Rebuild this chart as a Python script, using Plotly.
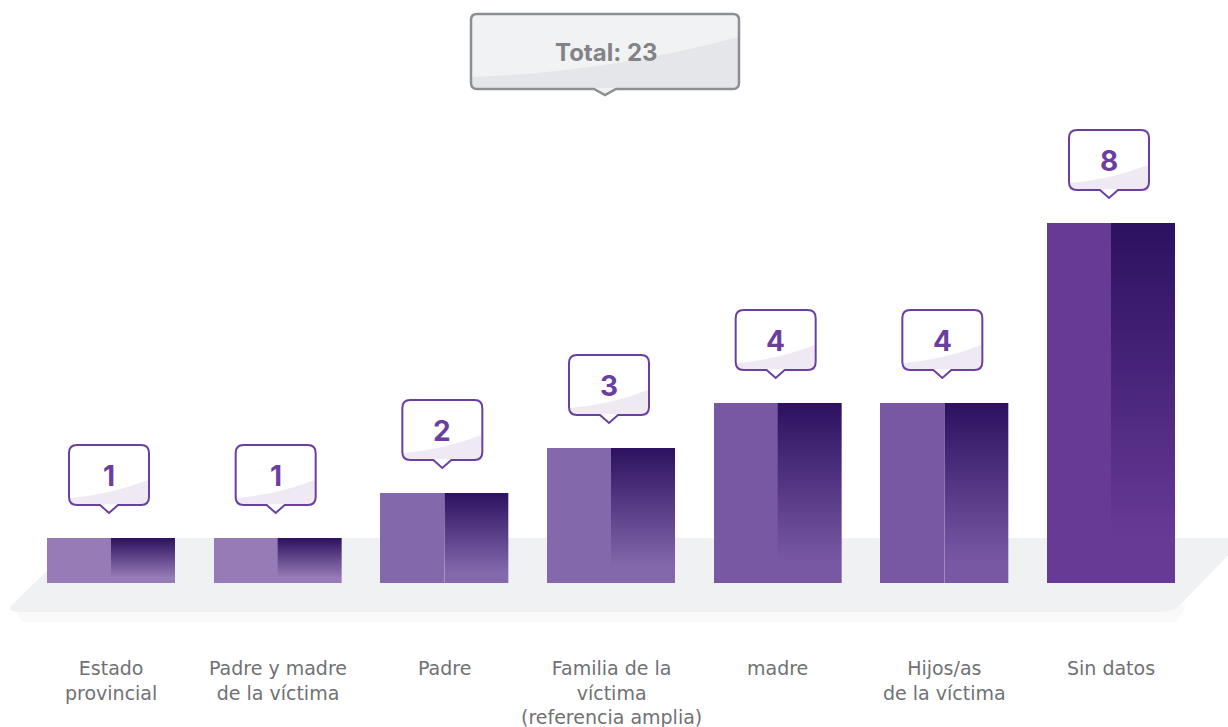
import plotly.graph_objects as go

# ---------------- data ----------------
categories = ["Estado<br>provincial", "Padre y madre<br>de la víctima", "Padre",
              "Familia de la<br>víctima<br>(referencia amplia)", "madre",
              "Hijos/as<br>de la víctima", "Sin datos"]
values = [1, 1, 2, 3, 4, 4, 8]
total_label = "Total: 23"

# ---------------- styles ----------------
light_colors = ["#967bb6", "#967bb6", "#8468ac", "#8468ac", "#7858a3", "#7858a3", "#673a96"]
dark_top = "#2c1160"
purple = "#6b3fa0"
W, H = 1228, 727
HALF = 0.384  # half bar width in x units

idx = list(range(len(values)))

fig = go.Figure()

# left (solid) halves of bars
fig.add_trace(go.Bar(
    x=[i - HALF / 2 for i in idx], y=values, width=HALF,
    marker=dict(color=light_colors, line=dict(width=0)),
    hoverinfo="skip", showlegend=False))

# right (gradient) halves of bars
for i, v, c in zip(idx, values, light_colors):
    fig.add_trace(go.Scatter(
        x=[i, i + HALF, i + HALF, i, i], y=[0, 0, v, v, 0],
        mode="lines", fill="toself", line=dict(width=0, color=c),
        fillgradient=dict(type="vertical", colorscale=[[0, c], [0.12, c], [1, dark_top]]),
        hoverinfo="skip", showlegend=False))


def pp(x, y):
    return f"{x / W:.5f},{1 - y / H:.5f}"


shapes = []
# floor platform (decoration)
shapes.append(dict(type="path", xref="paper", yref="paper", layer="below",
                   path=f"M {pp(14, 606)} L {pp(1186, 606)} L {pp(1176, 622)} L {pp(22, 622)} Z",
                   fillcolor="#f9f9fa", line=dict(width=0)))
shapes.append(dict(type="path", xref="paper", yref="paper", layer="below",
                   path=(f"M {pp(80, 538)} L {pp(1245, 538)} L {pp(1180, 605)} "
                         f"Q {pp(1173, 612)} {pp(1160, 612)} L {pp(20, 612)} "
                         f"Q {pp(6, 612)} {pp(12, 605)} Z"),
                   fillcolor="#f0f1f3", line=dict(width=0)))

# total box
tb = (f"M {pp(477, 14)} L {pp(733, 14)} Q {pp(739, 14)} {pp(739, 20)} L {pp(739, 83)} "
      f"Q {pp(739, 89)} {pp(733, 89)} L {pp(616, 89)} L {pp(605, 95)} L {pp(594, 89)} "
      f"L {pp(477, 89)} Q {pp(471, 89)} {pp(471, 83)} L {pp(471, 20)} Q {pp(471, 14)} {pp(477, 14)} Z")
shapes.append(dict(type="path", xref="paper", yref="paper", path=tb,
                   fillcolor="#f1f2f4", line=dict(width=0)))
shapes.append(dict(type="path", xref="paper", yref="paper",
                   path=(f"M {pp(472, 77)} Q {pp(610, 72)} {pp(738, 37)} L {pp(738, 84)} "
                         f"Q {pp(738, 88)} {pp(733, 88)} L {pp(477, 88)} Q {pp(472, 88)} {pp(472, 84)} Z"),
                   fillcolor="#e5e6e9", line=dict(width=0)))
shapes.append(dict(type="path", xref="paper", yref="paper", path=tb,
                   fillcolor="rgba(0,0,0,0)", line=dict(width=2.5, color="#8c8f93")))

# value callouts (pixel-sized, anchored at each bar top)
w, r, b, t, tip, ph = 40, 8, 33, 93, 25, 9
callout = (f"M {-w + r},{b} L {-ph},{b} L 0,{tip} L {ph},{b} L {w - r},{b} "
           f"Q {w},{b} {w},{b + r} L {w},{t - r} Q {w},{t} {w - r},{t} "
           f"L {-w + r},{t} Q {-w},{t} {-w},{t - r} L {-w},{b + r} Q {-w},{b} {-w + r},{b} Z")
swoosh = (f"M {-w + 1},{b + 7} Q 0,{b + 10} {w - 1},{b + 25} L {w - 1},{b + r} "
          f"Q {w - 1},{b + 1} {w - r},{b + 1} L {-w + r},{b + 1} Q {-w + 1},{b + 1} {-w + 1},{b + r} Z")
annotations = []
for i, v in zip(idx, values):
    common = dict(type="path", xref="x", yref="y", xsizemode="pixel", ysizemode="pixel",
                  xanchor=i - 0.012, yanchor=v)
    shapes.append(dict(common, path=callout, fillcolor="white", line=dict(width=0)))
    shapes.append(dict(common, path=swoosh, fillcolor="#efe9f4", line=dict(width=0)))
    shapes.append(dict(common, path=callout, fillcolor="rgba(0,0,0,0)",
                       line=dict(width=2, color=purple)))
    annotations.append(dict(x=i, y=v, xref="x", yref="y", text=f"<b>{v}</b>",
                            showarrow=False, xshift=-2, yshift=62,
                            xanchor="center", yanchor="middle",
                            font=dict(family="Inter", size=28, color=purple)))

# category labels
for i, c in zip(idx, categories):
    annotations.append(dict(x=i, y=1 - 656 / H, xref="x", yref="paper",
                            text=c, showarrow=False, yanchor="top", xanchor="center",
                            borderpad=0,
                            font=dict(family="DejaVu Sans", size=19, color="#707174")))

# total label
annotations.append(dict(x=606 / W, y=1 - 52 / H, xref="paper", yref="paper",
                        text=f"<b>{total_label}</b>", showarrow=False,
                        xanchor="center", yanchor="middle",
                        font=dict(family="Inter", size=24, color="#818386")))

fig.update_layout(
    width=W, height=H, margin=dict(l=0, r=0, t=0, b=0),
    paper_bgcolor="white", plot_bgcolor="white",
    xaxis=dict(range=[-0.666, 6.702], visible=False, fixedrange=True),
    yaxis=dict(range=[-3.2, 12.956], visible=False, fixedrange=True),
    shapes=shapes, annotations=annotations, showlegend=False, bargap=0,
)

fig.write_html("out.html", config={"displayModeBar": False},
               post_script="document.body.style.margin='0';document.body.style.overflow='hidden';")
